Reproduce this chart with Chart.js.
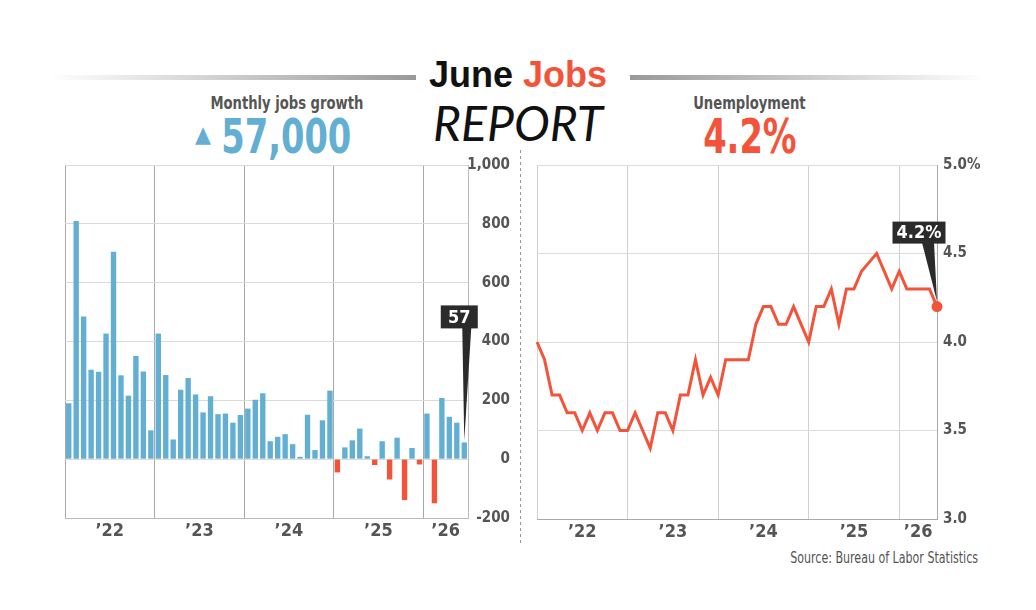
<!DOCTYPE html>
<html>
<head>
<meta charset="utf-8">
<script src="https://cdn.jsdelivr.net/npm/chart.js@4.4.0/dist/chart.umd.min.js"></script>
<style>
  body {
    margin: 0;
    width: 1036px;
    height: 610px;
    background: #fff;
    position: relative;
    overflow: hidden;
    font-family: 'Liberation Sans Narrow', 'DejaVu Sans Condensed', 'Liberation Sans', sans-serif;
  }
  .txt { position: absolute; text-align: center; white-space: nowrap; }
  .txt > span { display: inline-block; }
  .rule { position: absolute; top: 75px; height: 5px; }
  #ruleL { left: 50px; width: 366px; background: linear-gradient(to right, rgba(160,160,160,0), #999); }
  #ruleR { left: 630px; width: 356px; background: linear-gradient(to right, #999, rgba(160,160,160,0)); }
  #title1 { left: 370px; width: 296px; top: 55px; font: bold 36px 'Liberation Sans', Arial, sans-serif; line-height: 40px; color: #111; }
  #title1 b { color: #f4533a; }
  #title2 { left: 370px; width: 296px; top: 97px; font: italic 400 48px Lato, 'Open Sans', sans-serif; line-height: 52px; color: #111; }
  .lbl { top: 93px; width: 300px; font-weight: bold; font-size: 17px; line-height: 20px; color: #555; }
  .lbl > span { transform: scaleX(0.86); }
  .big { top: 112px; width: 300px; font-weight: bold; font-size: 48px; line-height: 48px; }
  .big > span { transform: scaleX(0.78); }
  #lblJobs { left: 137px; }
  #bigJobs { left: 136px; color: #62afd3; }
  #tri { position: absolute; left: 195px; top: 121px; font-size: 23px; line-height: 26px; color: #62afd3; }
  #lblRate { left: 599px; }
  #bigRate { left: 600px; color: #f4533a; }
  #divider { position: absolute; left: 520px; top: 150px; width: 1px; height: 395px;
    background: repeating-linear-gradient(to bottom, #999 0 3px, transparent 3px 6px); }
  .box { position: absolute; }
  #boxJobs { left: 55px; top: 150px; width: 457px; height: 395px; }
  #boxRate { left: 530px; top: 150px; width: 460px; height: 395px; }
  #source { position: absolute; right: 58px; top: 549px; font-size: 15px; color: #555; transform: scaleX(0.82); transform-origin: right center; white-space: nowrap; }
</style>
</head>
<body>
<div class="rule" id="ruleL"></div>
<div class="rule" id="ruleR"></div>
<div class="txt" id="title1">June <b>Jobs</b></div>
<div class="txt" id="title2">REPORT</div>
<div class="txt lbl" id="lblJobs"><span>Monthly jobs growth</span></div>
<div id="tri">▲</div>
<div class="txt big" id="bigJobs"><span id="bigJobsNum"></span></div>
<div class="txt lbl" id="lblRate"><span>Unemployment</span></div>
<div class="txt big" id="bigRate"><span id="bigRateNum"></span></div>
<div id="divider"></div>
<div class="box" id="boxJobs"><canvas id="jobs"></canvas></div>
<div class="box" id="boxRate"><canvas id="rate"></canvas></div>
<div id="source">Source: Bureau of Labor Statistics</div>

<script>
// anos no eixo x
const years = ['’22', '’23', '’24', '’25', '’26'];

// criacao de empregos por mes (milhares)
const jobsGrowth = [
    190, 810, 485, 304, 297, 427, 705, 285, 216, 351, 298, 98,
    427, 286, 67, 236, 276, 220, 159, 214, 153, 155, 124, 150,
    172, 202, 224, 61, 76, 85, 51, 8, 151, 31, 132, 233,
    -45, 40, 64, 104, 10, -20, 61, -69, 73, -139, 38, -18,
    155, -150, 208, 144, 124, 57
];

// taxa de desemprego (%)
const unemployment = [
    4.0, 3.9, 3.7, 3.7, 3.6, 3.6, 3.5, 3.6, 3.5, 3.6, 3.6, 3.5,
    3.5, 3.6, 3.5, 3.4, 3.6, 3.6, 3.5, 3.7, 3.7, 3.9, 3.7, 3.8,
    3.7, 3.9, 3.9, 3.9, 3.9, 4.1, 4.2, 4.2, 4.1, 4.1, 4.2, 4.1,
    4.0, 4.2, 4.2, 4.3, 4.1, 4.3, 4.3, 4.4, 4.45, 4.5, 4.4, 4.3,
    4.4, 4.3, 4.3, 4.3, 4.3, 4.2
];

const jobsTicks = ['-200', '0', '200', '400', '600', '800', '1,000'];
const rateTicks = ['3.0', '3.5', '4.0', '4.5', '5.0%'];

const AZUL = '#62afd3';
const VERMELHO = '#f4533a';
const CINZA_TXT = '#555';
const FONTE = "'Liberation Sans Narrow', 'DejaVu Sans Condensed', 'Liberation Sans', sans-serif";

Chart.defaults.font.family = FONTE;
Chart.defaults.animation = false;

// textos do cabecalho a partir do ultimo mes
const ultimoJobs = jobsGrowth[jobsGrowth.length - 1];
const ultimaTaxa = unemployment[unemployment.length - 1];
document.getElementById('bigJobsNum').innerText = (ultimoJobs * 1000).toLocaleString('en-US');
document.getElementById('bigRateNum').innerText = ultimaTaxa.toFixed(1) + '%';

// ticks do eixo x: bordas dos anos (grade) e centro dos anos (rotulo)
function ticksDosAnos(min, max) {
    const ticks = [{ value: min, borda: true }];
    for (let i = 0; i < years.length; i++) {
        const a = min + i * 12;
        const b = Math.min(min + (i + 1) * 12, max);
        ticks.push({ value: (a + b) / 2, ano: years[i] });
        if (b < max) ticks.push({ value: b, borda: true });
    }
    ticks.push({ value: max, borda: true });
    return ticks;
}

// caixinha escura com seta apontando pro ultimo ponto
const pluginDestaque = {
    id: 'destaque',
    afterDatasetsDraw(chart, args, opts) {
        const meta = chart.getDatasetMeta(0);
        const el = meta.data[meta.data.length - 1];
        const ctx = chart.ctx;
        const tipX = el.x;
        const tipY = el.y + opts.gap;
        const base = tipY - opts.subida;
        const cx = tipX + opts.dx;

        ctx.save();
        ctx.fillStyle = '#2b2b2b';
        ctx.fillRect(cx - opts.w / 2, base - opts.h, opts.w, opts.h);
        ctx.beginPath();
        ctx.moveTo(tipX + opts.baseE, base - 1);
        ctx.lineTo(tipX + opts.baseD, base - 1);
        ctx.lineTo(tipX, tipY);
        ctx.closePath();
        ctx.fill();
        ctx.fillStyle = '#fff';
        ctx.font = 'bold 18px ' + FONTE;
        ctx.textAlign = 'center';
        ctx.textBaseline = 'middle';
        ctx.fillText(opts.texto, cx, base - opts.h / 2 + 1);
        ctx.restore();
    }
};

const fonteTick = { size: 15, weight: 'bold' };

new Chart(document.getElementById('jobs'), {
    type: 'bar',
    data: {
        datasets: [{
            data: jobsGrowth.map((v, i) => ({ x: i, y: v })),
            backgroundColor: jobsGrowth.map(v => v < 0 ? VERMELHO : AZUL),
            barPercentage: 0.72,
            categoryPercentage: 1
        }]
    },
    options: {
        responsive: true,
        maintainAspectRatio: false,
        layout: { padding: { left: 10, top: 15, right: 2, bottom: 0 } },
        plugins: {
            legend: { display: false },
            tooltip: { enabled: false },
            destaque: { texto: String(ultimoJobs), gap: -2, subida: 112, dx: -5, w: 37, h: 23, baseE: -2, baseD: 7 }
        },
        scales: {
            x: {
                type: 'linear',
                offset: false,
                min: -0.5,
                max: jobsGrowth.length - 0.5,
                afterBuildTicks: (s) => { s.ticks = ticksDosAnos(-0.5, jobsGrowth.length - 0.5); },
                afterFit: (s) => { s.height = 27; },
                ticks: {
                    autoSkip: false,
                    maxRotation: 0,
                    padding: 3,
                    color: CINZA_TXT,
                    font: { size: 18, weight: 'bold' },
                    callback: (v, i, t) => t[i].ano || ''
                },
                grid: {
                    offset: false,
                    drawTicks: false,
                    color: (c) => (c.tick && c.tick.borda) ? '#a8a8a8' : 'rgba(0,0,0,0)'
                },
                border: { display: true, color: '#bbb' }
            },
            y: {
                position: 'right',
                min: -200,
                max: 1000,
                afterFit: (s) => { s.width = 42; },
                ticks: {
                    stepSize: 200,
                    crossAlign: 'far',
                    color: CINZA_TXT,
                    font: fonteTick,
                    callback: (v, i) => jobsTicks[i]
                },
                grid: { drawTicks: false, color: '#dadada' },
                border: { display: true, color: '#bbb' }
            }
        }
    },
    plugins: [pluginDestaque]
});

new Chart(document.getElementById('rate'), {
    type: 'line',
    data: {
        datasets: [{
            data: unemployment.map((v, i) => ({ x: i, y: v })),
            borderColor: VERMELHO,
            borderWidth: 3,
            tension: 0,
            clip: false,
            pointRadius: unemployment.map((v, i) => i === unemployment.length - 1 ? 5.5 : 0),
            pointBackgroundColor: VERMELHO,
            pointBorderWidth: 0
        }]
    },
    options: {
        responsive: true,
        maintainAspectRatio: false,
        layout: { padding: { left: 7, top: 12, right: 0, bottom: 0 } },
        plugins: {
            legend: { display: false },
            tooltip: { enabled: false },
            destaque: { texto: ultimaTaxa.toFixed(1) + '%', gap: -5, subida: 58, dx: -18, w: 53, h: 22, baseE: -15, baseD: -3 }
        },
        scales: {
            x: {
                type: 'linear',
                min: 0,
                max: unemployment.length - 1,
                afterBuildTicks: (s) => { s.ticks = ticksDosAnos(0, unemployment.length - 1); },
                afterFit: (s) => { s.height = 26; },
                ticks: {
                    autoSkip: false,
                    maxRotation: 0,
                    padding: 3,
                    color: CINZA_TXT,
                    font: { size: 18, weight: 'bold' },
                    callback: (v, i, t) => t[i].ano || ''
                },
                grid: {
                    drawTicks: false,
                    color: (c) => (c.tick && c.tick.borda) ? '#d0d0d0' : 'rgba(0,0,0,0)'
                },
                border: { display: true, color: '#aaa' }
            },
            y: {
                position: 'right',
                min: 3,
                max: 5,
                afterFit: (s) => { s.width = 53; },
                ticks: {
                    stepSize: 0.5,
                    crossAlign: 'near',
                    padding: 6,
                    color: CINZA_TXT,
                    font: fonteTick,
                    callback: (v, i) => rateTicks[i]
                },
                grid: { drawTicks: false, color: '#dcdcdc' },
                border: { display: true, color: '#aaa' }
            }
        }
    },
    plugins: [pluginDestaque]
});
</script>
</body>
</html>
